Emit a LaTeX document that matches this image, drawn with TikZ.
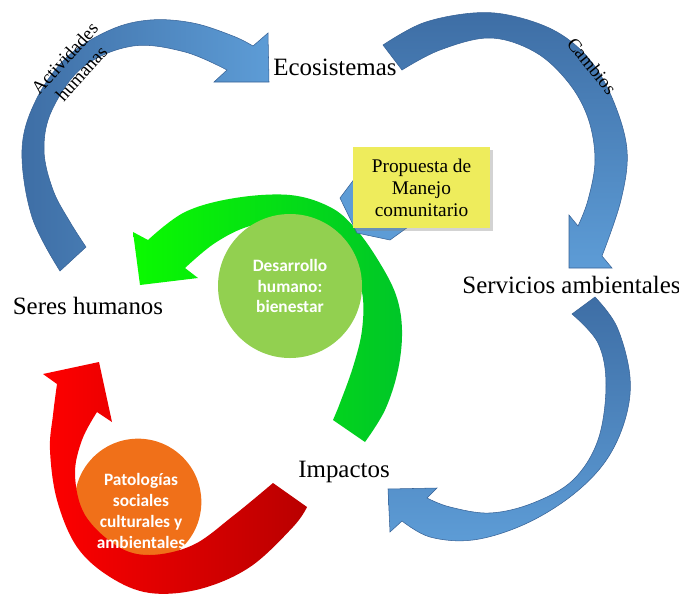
\documentclass[tikz,border=0pt]{standalone}
\usepackage{fontspec}
\setmainfont{Liberation Serif}
\newfontfamily\calibri{Carlito}
\usetikzlibrary{shadows}
\definecolor{blueL}{RGB}{93,156,214}
\definecolor{blueD}{RGB}{62,110,165}
\definecolor{blueE}{RGB}{55,98,150}
\definecolor{limeG}{RGB}{10,250,0}
\definecolor{darkG}{RGB}{0,198,40}
\definecolor{leafG}{RGB}{146,208,80}
\definecolor{orangeP}{RGB}{240,112,25}
\definecolor{redA}{RGB}{255,0,0}
\definecolor{redD}{RGB}{185,0,0}
\definecolor{yellowB}{RGB}{238,236,92}

\begin{document}
\begin{tikzpicture}[
    x=0.75pt, y=-0.75pt,
    bigarrow/.style={draw=blueE, line width=0.4pt},
    lbl/.style={font=\fontsize{18.7}{22}\selectfont, inner sep=0pt, anchor=base},
    arclbl/.style={font=\fontsize{14}{15}\selectfont, align=center, inner sep=0pt},
    disc/.style={circle, minimum size=#1, inner sep=0pt},
    disctext/.style={font=\calibri\bfseries\fontsize{13}{15.7}\selectfont, text=white, align=center, inner sep=0pt},
    note/.style={rectangle, fill=yellowB, minimum width=102.75pt, minimum height=60.75pt, align=center,
        font=\fontsize{14.5}{16.5}\selectfont, drop shadow={opacity=0.35, shadow xshift=2pt, shadow yshift=-2pt}}
]
\useasboundingbox (0,0) rectangle (679,597);

% blue cycle
\path[bigarrow, left color=blueD, right color=blueL]
    plot[smooth, tension=0.6] coordinates {(60,271) (32,217) (22,150) (36,100) (67,57) (110,30) (150,20) (193,23) (233,36) (253,46)}
    -- (268,33) -- (269,82) -- (214,82) -- (227,70)
    -- plot[smooth, tension=0.6] coordinates {(227,70) (185,52) (133,46) (83,67) (52,110) (44,150) (53,190) (70,222) (86,247)}
    -- cycle;
\path[bigarrow, top color=blueD, bottom color=blueL]
    plot[smooth, tension=0.6] coordinates {(383,45) (423,23) (473,13) (513,16) (557,32) (590,60) (613,100) (627,150) (621,200) (602,256)}
    -- (612,268) -- (569,268) -- (569,215) -- (578,226)
    -- plot[smooth, tension=0.6] coordinates {(578,226) (588,200) (595,160) (588,118) (568,82) (535,52) (490,38) (440,50) (402,70)}
    -- cycle;
\path[bigarrow, top color=blueD, bottom color=blueL]
    plot[smooth, tension=0.6] coordinates {(595,297) (617,327) (630,377) (625,420) (605,462) (570,497) (523,525) (473,540) (430,537) (402,521)}
    -- (390,532) -- (388,489) -- (437,488) -- (427,498)
    -- plot[smooth, tension=0.6] coordinates {(427,498) (450,507) (490,513) (533,503) (573,480) (598,440) (606,385) (598,343) (572,314)}
    -- cycle;

% green arrow and circle
\path[left color=limeG, right color=darkG]
    plot[smooth, tension=0.6] coordinates {(365,442) (385,410) (398,370) (402,330) (396,295) (378,260) (355,228) (330,207) (290,195) (235,198) (185,212) (148,240)}
    -- (133,232) -- (140,285) -- (198,278) -- (185,268)
    -- plot[smooth, tension=0.6] coordinates {(185,268) (215,243) (250,226) (290,222) (322,234) (348,258) (362,292) (362,330) (353,367) (340,403) (333,420)}
    -- cycle;
\fill[blueL, draw=blueE, line width=0.4pt] (355,178) -- (340,198) -- (357,233) -- (390,240) -- (415,222) -- (380,205) -- cycle;
\node[note] (prop) at (421.5,187.5) {Propuesta de\\Manejo\\comunitario};
\node[disc=108pt, fill=leafG] (dh) at (290,286) {};
\node[disctext] (dhText) at (290,286) {Desarrollo\\humano:\\bienestar};

% red arrow and circle
\node[disc=95pt, fill=orangeP] (pat) at (138,502) {};
\path[left color=redA, right color=redD]
    plot[smooth, tension=0.6] coordinates {(307,507) (293,527) (250,567) (200,589) (150,593) (110,577) (77,547) (57,500) (50,450) (53,415) (57,384)}
    -- (43,374) -- (99,362) -- (112,422) -- (97,412)
    -- plot[smooth, tension=0.6] coordinates {(97,412) (82,440) (75,475) (85,515) (117,546) (150,555) (193,545) (233,516) (273,483)}
    -- cycle;
\node[disctext] (patText) at (141,511) {Patologías\\sociales\\culturales y\\ambientales};

\node[lbl] (eco)   at (335,75)    {Ecosistemas};
\node[lbl] (serv)  at (571.5,293) {Servicios ambientales};
\node[lbl] (seres) at (88,314)    {Seres humanos};
\node[lbl] (imp)   at (344,477)   {Impactos};
\node[arclbl, rotate=48]  (act)  at (73,66) {Actividades\\[2pt]humanas};
\node[arclbl, rotate=-51] (camb) at (592,66) {Cambios};
\end{tikzpicture}
\end{document}
